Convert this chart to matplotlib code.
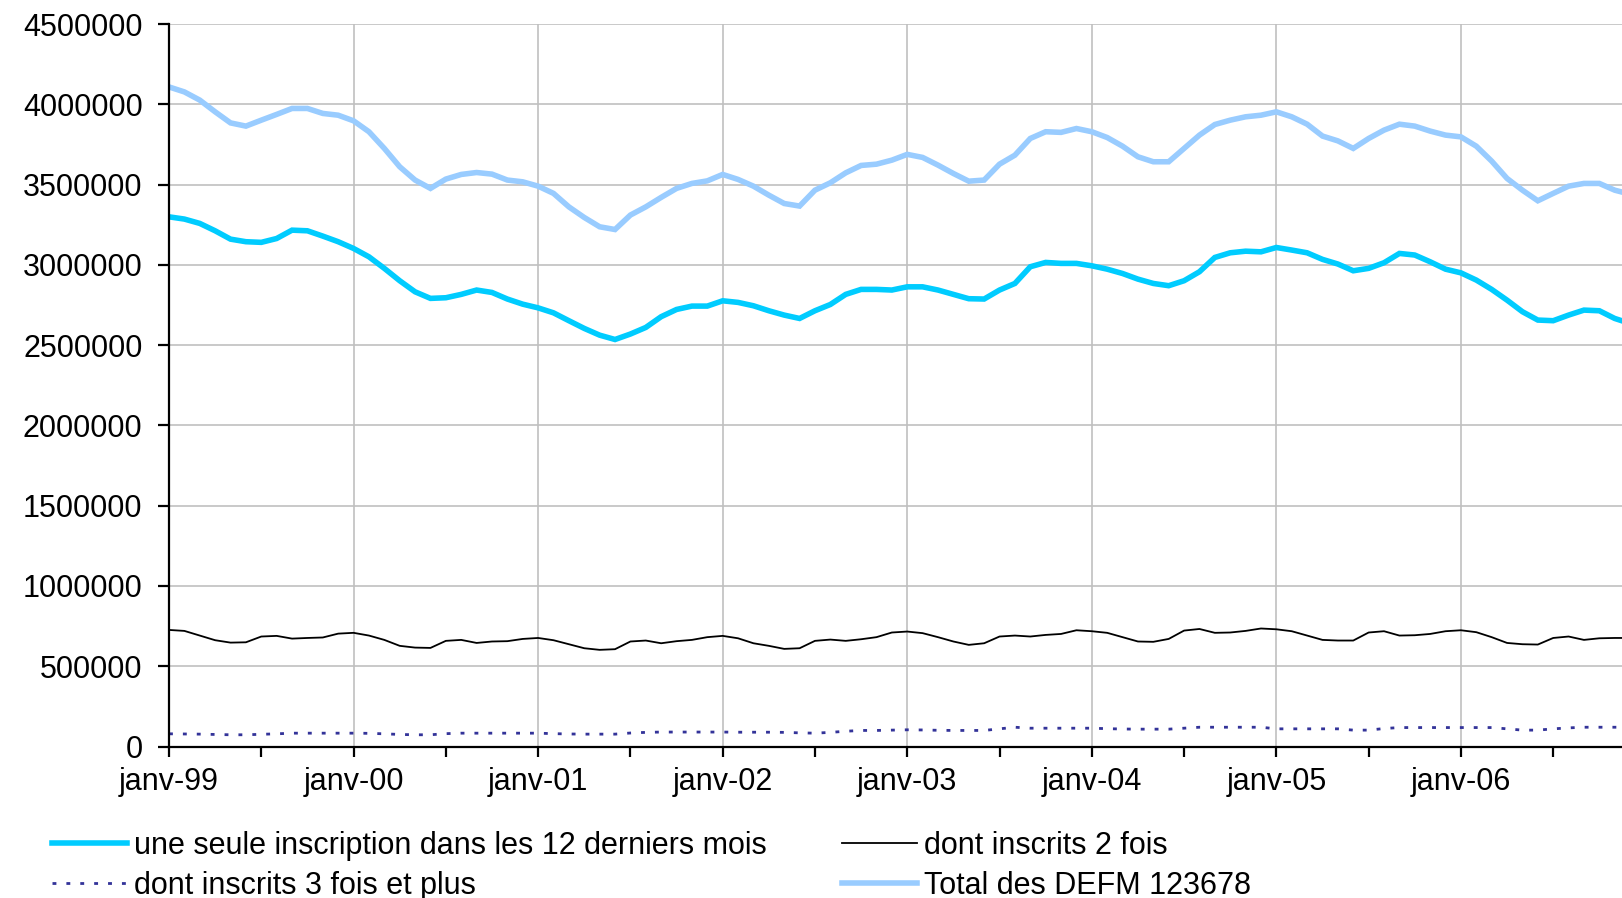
import numpy as np
import matplotlib
matplotlib.use("Agg")
import matplotlib.pyplot as plt
from matplotlib.lines import Line2D

plt.rcParams["font.family"] = ["Liberation Sans", "DejaVu Sans"]

# =========================
# DATA (monthly, janv-99 .. dec-06)
# =========================
year_labels = ["janv-99", "janv-00", "janv-01", "janv-02", "janv-03", "janv-04", "janv-05", "janv-06"]

une_seule = [
    3299000, 3285000, 3258000, 3212000, 3160000, 3144000, 3140000, 3164000, 3216000, 3212000, 3179000, 3144000,
    3102000, 3050000, 2978000, 2901000, 2832000, 2791000, 2795000, 2816000, 2843000, 2828000, 2787000, 2755000,
    2732000, 2701000, 2652000, 2604000, 2562000, 2535000, 2569000, 2610000, 2677000, 2722000, 2743000, 2743000,
    2776000, 2766000, 2745000, 2714000, 2687000, 2666000, 2714000, 2753000, 2816000, 2847000, 2847000, 2843000,
    2863000, 2863000, 2843000, 2816000, 2789000, 2787000, 2843000, 2884000, 2988000, 3015000, 3009000, 3009000,
    2994000, 2973000, 2946000, 2911000, 2884000, 2870000, 2901000, 2957000, 3046000, 3075000, 3085000, 3081000,
    3108000, 3092000, 3075000, 3034000, 3005000, 2963000, 2978000, 3013000, 3071000, 3061000, 3019000, 2973000,
    2950000, 2905000, 2847000, 2780000, 2708000, 2656000, 2652000, 2687000, 2718000, 2714000, 2666000, 2635000,
]

deux_fois = [
    726000, 720000, 691000, 662000, 647000, 649000, 685000, 689000, 672000, 676000, 679000, 703000,
    708000, 691000, 664000, 627000, 616000, 614000, 658000, 664000, 645000, 654000, 656000, 670000,
    676000, 662000, 637000, 612000, 602000, 606000, 654000, 660000, 643000, 656000, 664000, 681000,
    689000, 674000, 643000, 627000, 608000, 612000, 658000, 666000, 658000, 668000, 681000, 710000,
    716000, 706000, 681000, 654000, 633000, 643000, 685000, 691000, 685000, 695000, 701000, 724000,
    718000, 708000, 681000, 654000, 652000, 670000, 722000, 732000, 708000, 710000, 720000, 735000,
    730000, 718000, 691000, 664000, 660000, 660000, 710000, 718000, 691000, 693000, 701000, 718000,
    724000, 712000, 681000, 645000, 637000, 635000, 676000, 685000, 664000, 674000, 676000, 676000,
]

trois_plus = [
    79000, 78000, 77000, 75000, 73000, 73000, 76000, 79000, 83000, 83000, 83000, 83000,
    83000, 82000, 79000, 75000, 73000, 73000, 80000, 83000, 83000, 83000, 83000, 83000,
    83000, 80000, 78000, 77000, 77000, 77000, 84000, 88000, 90000, 90000, 90000, 90000,
    90000, 89000, 89000, 89000, 88000, 85000, 83000, 88000, 95000, 100000, 100000, 102000,
    104000, 103000, 101000, 100000, 100000, 100000, 110000, 120000, 114000, 114000, 114000, 114000,
    114000, 111000, 109000, 108000, 108000, 108000, 114000, 120000, 120000, 120000, 120000, 120000,
    110000, 110000, 110000, 110000, 110000, 102000, 102000, 112000, 118000, 118000, 118000, 118000,
    118000, 118000, 118000, 110000, 102000, 102000, 110000, 116000, 120000, 120000, 120000, 120000,
]

total = [
    4108000, 4077000, 4026000, 3953000, 3884000, 3864000, 3901000, 3937000, 3974000, 3974000, 3943000, 3932000,
    3897000, 3829000, 3725000, 3611000, 3528000, 3476000, 3534000, 3563000, 3575000, 3565000, 3528000, 3517000,
    3490000, 3445000, 3361000, 3295000, 3237000, 3220000, 3310000, 3361000, 3420000, 3476000, 3507000, 3523000,
    3563000, 3532000, 3490000, 3434000, 3382000, 3366000, 3465000, 3511000, 3573000, 3619000, 3627000, 3652000,
    3688000, 3669000, 3621000, 3569000, 3521000, 3528000, 3627000, 3683000, 3787000, 3829000, 3825000, 3849000,
    3829000, 3793000, 3739000, 3673000, 3642000, 3642000, 3725000, 3808000, 3874000, 3901000, 3922000, 3932000,
    3953000, 3922000, 3876000, 3802000, 3772000, 3725000, 3787000, 3839000, 3876000, 3864000, 3833000, 3808000,
    3797000, 3739000, 3646000, 3538000, 3465000, 3399000, 3445000, 3490000, 3507000, 3507000, 3465000, 3440000,
]

labels = [
    "une seule inscription dans les 12 derniers mois",
    "dont inscrits 2 fois",
    "dont inscrits 3 fois et plus",
    "Total des DEFM 123678",
]

# =========================
# FIGURE
# =========================
W, H = 1622, 898
fig = plt.figure(figsize=(W / 100, H / 100), dpi=100)

left_px, right_px = 169, 169 + 96 * 15.38
top_px, bottom_px = 24, 746.5
ax = fig.add_axes([left_px / W, 1 - bottom_px / H,
                   (right_px - left_px) / W, (bottom_px - top_px) / H])

x = np.arange(len(total))
c_seule = "#00CCFF"
c_total = "#99CCFF"
c_deux = "#000000"
c_trois = "#333399"
dots = (0, (1.4, 3.6))
fs = 22

ax.plot(x, total, color=c_total, lw=4.0, solid_joinstyle="miter", zorder=3)
ax.plot(x, une_seule, color=c_seule, lw=4.0, solid_joinstyle="miter", zorder=3)
ax.plot(x, deux_fois, color=c_deux, lw=1.3, zorder=3)
ax.plot(x, trois_plus, color=c_trois, lw=2.0, linestyle=dots, dash_capstyle="butt", zorder=3)

ax.set_xlim(0, 96)
ax.set_ylim(0, 4500000)
ax.set_yticks(np.arange(0, 4500001, 500000))
ax.set_yticklabels([str(v) for v in range(0, 4500001, 500000)])
ax.set_xticks(np.arange(0, 96, 12))
ax.set_xticklabels(year_labels)
ax.set_xticks(np.arange(6, 96, 12), minor=True)

ax.grid(True, which="major", color="#C0C0C0", lw=1.2, zorder=0)
ax.set_axisbelow(True)
for s in ["top", "right"]:
    ax.spines[s].set_visible(False)
for s in ["left", "bottom"]:
    ax.spines[s].set_linewidth(1.6)
    ax.spines[s].set_zorder(4)

ax.tick_params(axis="y", which="major", length=8, width=1.6, pad=11, labelsize=fs)
ax.tick_params(axis="x", which="both", length=7, width=1.6, pad=8, labelsize=fs)

# =========================
# LEGEND (two columns, placed separately)
# =========================
h_seule = Line2D([], [], color=c_seule, lw=4.0)
h_deux = Line2D([], [], color=c_deux, lw=1.3)
h_trois = Line2D([], [], color=c_trois, lw=2.0, linestyle=dots)
h_total = Line2D([], [], color=c_total, lw=4.0)

leg_kw = dict(loc="upper left", frameon=False, fontsize=fs, borderpad=0,
              borderaxespad=0, handlelength=2.45, handletextpad=0.25, labelspacing=0.32)
leg1 = fig.legend([h_seule, h_trois], [labels[0], labels[2]],
                  bbox_to_anchor=(52 / W, 1 - 831 / H), **leg_kw)
leg2 = fig.legend([h_deux, h_total], [labels[1], labels[3]],
                  bbox_to_anchor=(842 / W, 1 - 831 / H), **leg_kw)

fig.savefig("out.png", dpi=100)
